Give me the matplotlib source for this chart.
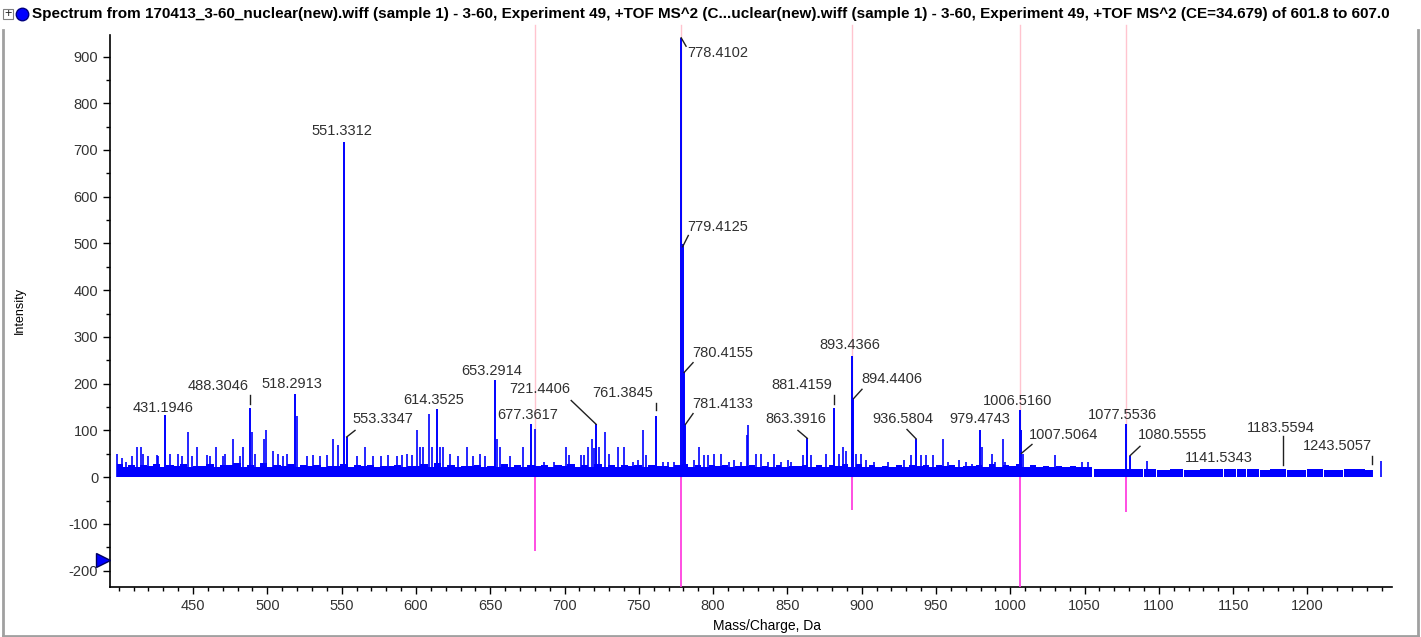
import matplotlib
matplotlib.use("Agg")
import matplotlib.pyplot as plt
from matplotlib.lines import Line2D
from matplotlib.patches import Rectangle
from matplotlib.ticker import MultipleLocator, FixedLocator

# ---- data ----
# labelled peaks
peak_mz = [431.1946, 488.3046, 518.2913, 551.3312, 553.3347, 614.3525, 653.2914, 677.3617,
           721.4406, 761.3845, 778.4102, 779.4125, 780.4155, 781.4133, 863.3916, 881.4159,
           893.4366, 894.4406, 936.5804, 979.4743, 1006.5160, 1007.5064, 1077.5536, 1080.5555,
           1141.5343, 1183.5594, 1243.5057]
peak_int = [132, 148, 178, 717, 86, 145, 207, 113,
            113, 131, 940, 498, 224, 113, 83, 149,
            260, 168, 82, 100, 143, 100, 114, 46,
            16, 16, 16]

# unlabelled spikes above the noise floor
noise_mz = [399.1, 402.0, 404.9, 408.8, 412.1, 414.8, 416.6, 420.0, 425.6, 426.7, 434.6, 440.2,
            442.4, 446.9, 449.1, 452.9, 459.2, 461.5, 465.5, 470.4, 471.6, 476.7, 481.6, 483.9,
            489.5, 491.7, 497.8, 499.1, 503.6, 507.4, 510.8, 513.0, 519.8, 526.5, 531.0, 535.5,
            539.9, 544.4, 547.8, 560.1, 565.7, 571.3, 576.3, 581.4, 587.0, 590.4, 593.8, 597.1,
            600.5, 602.7, 605.0, 609.0, 610.6, 616.2, 618.4, 622.9, 628.5, 634.1, 638.6, 643.1,
            646.4, 654.3, 656.5, 663.3, 672.2, 680.3,
            686.4, 693.2, 701.0, 703.3, 711.1, 713.4, 715.6, 718.3, 720.1, 723.5, 727.3, 730.2,
            735.8, 740.3, 745.9, 749.3, 752.6, 754.9, 766.1, 769.4, 773.9, 787.4, 790.8, 794.1,
            796.4, 800.8, 805.3, 810.9, 814.3, 818.8, 822.8, 823.7, 828.9, 832.2, 836.7, 841.2,
            845.7, 850.2, 852.4, 860.3, 865.9, 876.0, 885.0, 887.2, 889.5, 896.2, 899.5, 902.9,
            908.5, 917.5, 928.7, 933.2, 939.9, 943.3, 947.8, 954.5, 957.9, 965.7, 970.2,
            974.0, 980.8, 987.5, 989.7, 995.3, 996.5, 1008.8, 1030.1, 1048.0, 1052.5, 1091.8, 1249.3]
noise_int = [50, 40, 32, 45, 64, 64, 50, 45, 47, 45, 50, 50,
             45, 96, 45, 64, 47, 45, 64, 45, 50, 82, 45, 64,
             96, 50, 82, 100, 57, 50, 45, 50, 131, 45, 47, 45,
             47, 82, 68, 45, 64, 45, 45, 47, 45, 47, 50, 47,
             100, 64, 64, 136, 64, 64, 64, 50, 45, 64, 45, 50,
             45, 82, 64, 45, 64, 104,
             32, 32, 64, 48, 48, 48, 64, 82, 62, 64, 96, 50,
             64, 64, 32, 36, 100, 48, 32, 32, 32, 36, 64, 48,
             48, 50, 50, 32, 36, 32, 91, 112, 50, 50, 32, 50,
             32, 36, 32, 48, 48, 50, 50, 64, 57, 50, 50, 36,
             32, 32, 36, 48, 48, 48, 48, 82, 32, 36, 32,
             29, 64, 50, 32, 82, 32, 50, 48, 32, 32, 34, 34]

# dense noise floor: (start m/z, level)
band_start = [399, 403, 406, 411, 414, 419, 423, 428, 432, 437, 441, 446, 450, 455, 459, 464, 468, 473,
              477, 482, 486, 491, 495, 500, 504, 509, 513, 518, 522, 527, 531, 536, 540, 545, 549, 554,
              558, 563, 567, 572, 576, 581, 585, 590, 594, 599, 603, 608, 612, 617, 621, 626, 630, 635,
              639, 644, 648, 653, 657, 662, 666, 671, 675, 680, 684, 689, 693, 698, 702, 707, 711, 716,
              720, 725, 729, 734, 738, 743, 747, 752, 756, 761, 765, 770, 774, 779, 783, 788, 792, 797,
              801, 806, 810, 815, 819, 824, 828, 833, 837, 842, 846, 851, 855, 860, 864, 869, 873, 878,
              882, 887, 891, 896, 900, 905, 909, 914, 918, 923, 927, 932, 936, 941, 945, 950, 954, 959,
              963, 968, 972, 977, 981, 986, 990, 995, 999, 1004, 1008, 1013, 1017, 1022, 1026, 1031,
              1035, 1040, 1044, 1049, 1054.8,
              1056.4, 1089.2, 1089.8, 1098.2, 1098.8, 1107.2, 1107.8, 1116.2, 1116.8, 1127.4, 1128,
              1143.1, 1143.7, 1152, 1152.6, 1158.8, 1159.4, 1167.7, 1168.3, 1174.5, 1175.1, 1185.7,
              1186.3, 1199.2, 1199.8, 1210.4, 1211, 1223.8, 1224.4, 1238.4, 1239]
band_level = [28, 22, 26, 21, 27, 24, 29, 22, 25, 23, 28, 21, 24, 24, 28, 22, 26, 25,
              30, 22, 27, 22, 30, 22, 26, 24, 28, 22, 25, 23, 27, 21, 24, 24, 29, 22,
              27, 23, 25, 21, 24, 24, 27, 21, 23, 23, 29, 22, 30, 21, 27, 21, 24, 23,
              27, 21, 24, 21, 28, 22, 25, 22, 27, 24, 26, 21, 25, 23, 28, 22, 26, 21,
              29, 22, 27, 21, 25, 23, 27, 22, 26, 24, 24, 21, 26, 28, 22, 26, 22, 25,
              24, 27, 21, 24, 23, 27, 21, 24, 22, 26, 22, 24, 23, 27, 22, 25, 22, 27,
              24, 29, 22, 28, 22, 25, 21, 24, 22, 26, 22, 27, 24, 26, 22, 25, 23, 26,
              21, 24, 23, 27, 21, 28, 22, 26, 24, 29, 22, 26, 22, 24, 22, 24,
              22, 23, 22, 22, 0,
              17, 0, 17, 0, 16, 0, 17, 0, 16, 0, 17,
              0, 17, 0, 17, 0, 17, 0, 16, 0, 17, 0,
              16, 0, 17, 0, 16, 0, 17, 0, 16]
band_end = 1243.5

# reference (library) spectrum, drawn mirrored below zero
ref_mz = [680.3, 778.41, 893.44, 1006.52, 1077.55]
ref_int = [-157, -240, -71, -240, -75]

# label positions (m/z, intensity) and leader lines
label_pos = [(429.8, 149), (466.8, 196), (516.6, 200), (550.3, 740), (577.9, 124), (612.2, 166),
             (651.2, 228), (675.4, 132), (683.5, 188), (739.4, 181), (782.4, 907), (782.4, 536),
             (785.8, 265), (785.8, 156), (855.8, 124), (859.8, 198), (892.1, 282), (899.5, 209),
             (927.8, 124), (979.6, 124), (1005.2, 162), (1012.6, 91), (1075.8, 134), (1085.9, 91),
             (1140.4, 40), (1182.2, 106), (1219.9, 66)]
label_ha = ["center"] * 10 + ["left"] * 4 + ["center", "center", "center", "left",
            "center", "center", "center", "left", "center", "left", "center", "center", "center"]
leaders = {488.3046: ((488.3, 175), (488.3, 157)),
           553.3347: ((559.0, 100), (553.4, 86)),
           721.4406: ((704.5, 164), (721.3, 113)),
           761.3845: ((761.4, 158), (761.4, 143)),
           778.4102: ((778.5, 940), (781.8, 922)),
           779.4125: ((779.5, 493), (783.3, 517)),
           780.4155: ((786.5, 245), (780.5, 224)),
           781.4133: ((786.5, 136), (781.4, 113)),
           863.3916: ((857.1, 100), (863.4, 83)),
           881.4159: ((881.4, 175), (881.4, 157)),
           894.4406: ((900.2, 188), (894.5, 168)),
           936.5804: ((930.5, 102), (936.6, 82)),
           1007.5064: ((1014.6, 70), (1007.5, 51)),
           1080.5555: ((1087.3, 66), (1080.6, 46)),
           1183.5594: ((1183.6, 87), (1183.6, 25)),
           1243.5057: ((1243.5, 46), (1243.5, 29))}

title = ("Spectrum from 170413_3-60_nuclear(new).wiff (sample 1) - 3-60, Experiment 49, +TOF MS^2 "
         "(C...uclear(new).wiff (sample 1) - 3-60, Experiment 49, +TOF MS^2 (CE=34.679) of 601.8 to 607.0")

# ---- drawing ----
plt.rcParams['font.family'] = ['Liberation Sans', 'DejaVu Sans']
plt.rcParams['axes.unicode_minus'] = False
blue = "#0000ff"
fig = plt.figure(figsize=(14.21, 6.37), dpi=100)
ax = fig.add_axes([110 / 1421, 1 - 587 / 637, 1282 / 1421, 552 / 637])
ax.set_xlim(394.1, 1256.9)
ax.set_ylim(-235, 946)

# pink markers of the reference ions, above the baseline
for m in ref_mz:
    ax.plot([m, m], [0, 967], color="#ffc4cf", lw=1.0, clip_on=False, zorder=1)

edges = band_start + [band_end]
ax.stairs(band_level, edges, fill=True, color=blue, lw=0, zorder=2)
ax.vlines(noise_mz, 0, noise_int, color=blue, lw=1.2, zorder=2)
ax.vlines(peak_mz, 0, peak_int, color=blue, lw=1.4, zorder=3)
ax.vlines(ref_mz, ref_int, 0, color="#ff30dd", lw=1.2, zorder=3)

for m, (lx, ly), ha in zip(peak_mz, label_pos, label_ha):
    ax.text(lx, ly, f"{m:.4f}", ha=ha, va="center", fontsize=10.5, color="#303030", zorder=5)
    if m in leaders:
        (x1, y1), (x2, y2) = leaders[m]
        ax.plot([x1, x2], [y1, y2], color="#202020", lw=1.0, zorder=4)

# little blue arrow on the y axis
ax.plot([-0.0055], [-177], marker=">", ms=10, color=blue, mec="#000060",
        transform=ax.get_yaxis_transform(), clip_on=False, zorder=6)

for s in ["top", "right"]:
    ax.spines[s].set_visible(False)
for s in ["left", "bottom"]:
    ax.spines[s].set_linewidth(1.2)
ax.xaxis.set_major_locator(FixedLocator(list(range(450, 1201, 50))))
ax.xaxis.set_minor_locator(MultipleLocator(10))
ax.yaxis.set_major_locator(MultipleLocator(100))
ax.yaxis.set_minor_locator(MultipleLocator(50))
ax.tick_params(which="major", length=5, width=1, labelsize=10.5, labelcolor="#333333")
ax.tick_params(which="minor", length=3, width=1)
ax.set_xlabel("Mass/Charge, Da", fontsize=10)
ax.xaxis.set_label_coords(0.5125, -0.058)
ax.set_ylabel("Intensity", fontsize=9)
ax.yaxis.set_label_coords(-0.066, 0.50)

# window decoration
fig.text(32 / 1421, 1 - 14 / 637, title, fontsize=11, fontweight="bold",
         va="center", ha="left")
fig.add_artist(Rectangle((3 / 1421, 1 - 19 / 637), 10 / 1421, 10 / 637, fill=False,
                         edgecolor="#808080", lw=0.8, transform=fig.transFigure))
fig.text(8 / 1421, 1 - 14 / 637, "+", fontsize=9, ha="center", va="center", color="#202020")
fig.add_artist(Line2D([22 / 1421], [1 - 14 / 637], marker="o", ms=9, color=blue,
                      mec="#000080", transform=fig.transFigure))
for xs, ys in [([3, 3], [30, 636]), ([1418, 1418], [30, 636]), ([3, 1418], [636, 636])]:
    fig.add_artist(Line2D([x / 1421 for x in xs], [1 - y / 637 for y in ys],
                          color="#a0a0a0", lw=2, transform=fig.transFigure))

fig.savefig("out.png", dpi=100)
